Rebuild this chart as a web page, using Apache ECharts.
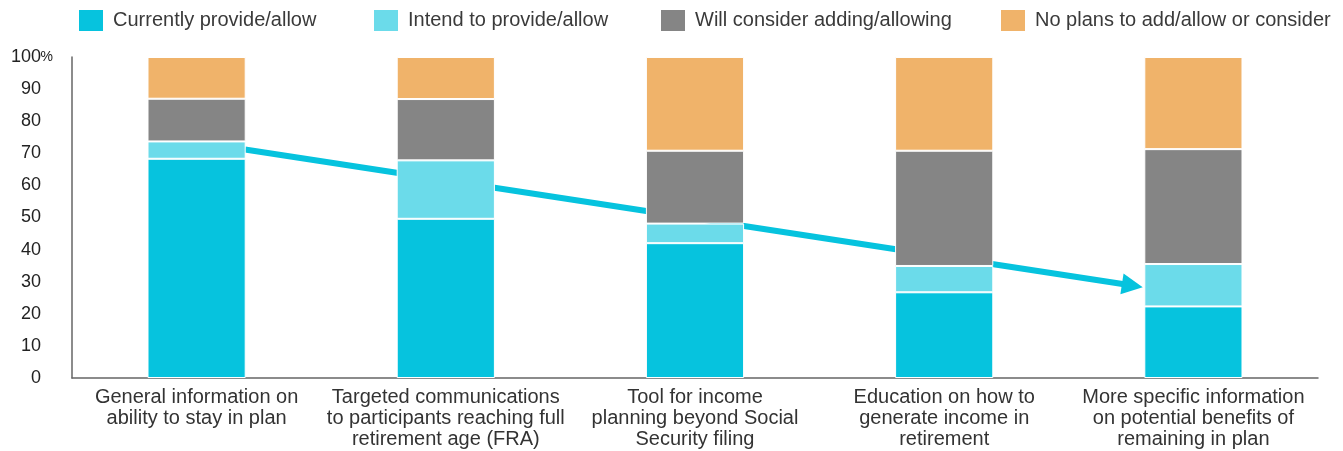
<!DOCTYPE html>
<html>
<head>
<meta charset="utf-8">
<script src="https://cdn.jsdelivr.net/npm/echarts@6/dist/echarts.min.js"></script>
<style>
html,body{margin:0;padding:0;background:#fff;}
#chart{width:1343px;height:451px;}
</style>
</head>
<body>
<div id="chart"></div>
<script>
var categories = [
  'General information on\nability to stay in plan',
  'Targeted communications\nto participants reaching full\nretirement age (FRA)',
  'Tool for income\nplanning beyond Social\nSecurity filing',
  'Education on how to\ngenerate income in\nretirement',
  'More specific information\non potential benefits of\nremaining in plan'
];
var seriesNames = ['Currently provide/allow', 'Intend to provide/allow', 'Will consider adding/allowing', 'No plans to add/allow or consider'];
var currentlyProvide = [68.3, 49.6, 42.0, 26.7, 22.3];
var intendToProvide = [5.4, 18.2, 6.1, 8.2, 13.2];
var willConsider = [13.3, 19.1, 22.7, 35.9, 35.8];
var noPlans = [13.0, 13.1, 29.2, 29.2, 28.7];
var yTicks = [0, 10, 20, 30, 40, 50, 60, 70, 80, 90, 100];
// trend arrow annotation: [category position, percent]
var arrowPath = [[0.194, 71.2], [3.755, 28.8]];

var colors = ['#06C3DE', '#6BDBEA', '#858585', '#F0B36A'];
var values = [currentlyProvide, intendToProvide, willConsider, noPlans];
var FONT = 'Liberation Sans, Arial, sans-serif';

var chart = echarts.init(document.getElementById('chart'));

var legendLefts = [77, 372, 659, 999];
var legends = seriesNames.map(function (n, i) {
  return {
    data: [n],
    left: legendLefts[i],
    top: 8,
    padding: 0,
    itemWidth: 26,
    itemHeight: 23,
    itemGap: 10,
    selectedMode: false,
    icon: 'rect',
    textStyle: {fontFamily: FONT, fontSize: 20, color: '#3a3a3a', padding: [0, 0, 0, 4]}
  };
});

var series = seriesNames.map(function (n, i) {
  return {
    name: n,
    type: 'bar',
    stack: 'total',
    data: values[i],
    barWidth: '39.4%',
    z: 3,
    itemStyle: {color: colors[i], borderColor: '#ffffff', borderWidth: 1},
    emphasis: {disabled: true}
  };
});

series.push({
  type: 'lines',
  coordinateSystem: 'cartesian2d',
  xAxisIndex: 1,
  yAxisIndex: 0,
  z: 1,
  symbol: ['none', 'triangle'],
  symbolSize: [23, 21],
  lineStyle: {color: '#06C3DE', width: 6, opacity: 1, type: 'solid'},
  data: [{coords: arrowPath}],
  silent: true
});

var option = {
  animation: false,
  color: colors,
  legend: legends,
  grid: {left: 72, right: 25, top: 57, bottom: 73, containLabel: false, outerBoundsMode: 'none'},
  xAxis: [{
    type: 'category',
    data: categories,
    axisLine: {show: true, onZero: false, lineStyle: {color: '#666', width: 1.5}},
    axisTick: {show: false},
    axisLabel: {
      interval: 0,
      margin: 9,
      fontFamily: FONT,
      fontSize: 20,
      lineHeight: 21,
      color: '#333',
      align: 'center'
    }
  }, {
    type: 'value',
    min: -0.5,
    max: 4.5,
    show: false
  }],
  yAxis: {
    type: 'value',
    min: 0,
    max: 100,
    interval: 10,
    axisLine: {show: true, onZero: false, lineStyle: {color: '#666', width: 1.5}},
    axisTick: {show: false},
    splitLine: {show: false},
    axisLabel: {
      margin: 19,
      fontFamily: FONT,
      fontSize: 18,
      color: '#222',
      formatter: function (v) {
        if (yTicks.indexOf(v) < 0) return '';
        return v === 100 ? '{n|100}{p|%}' : '{n|' + v + '}{q|}';
      },
      rich: {
        n: {fontFamily: FONT, fontSize: 18, color: '#222'},
        p: {fontFamily: FONT, fontSize: 14, color: '#222', width: 12},
        q: {width: 12}
      }
    }
  },
  series: series
};
chart.setOption(option);
</script>
</body>
</html>
